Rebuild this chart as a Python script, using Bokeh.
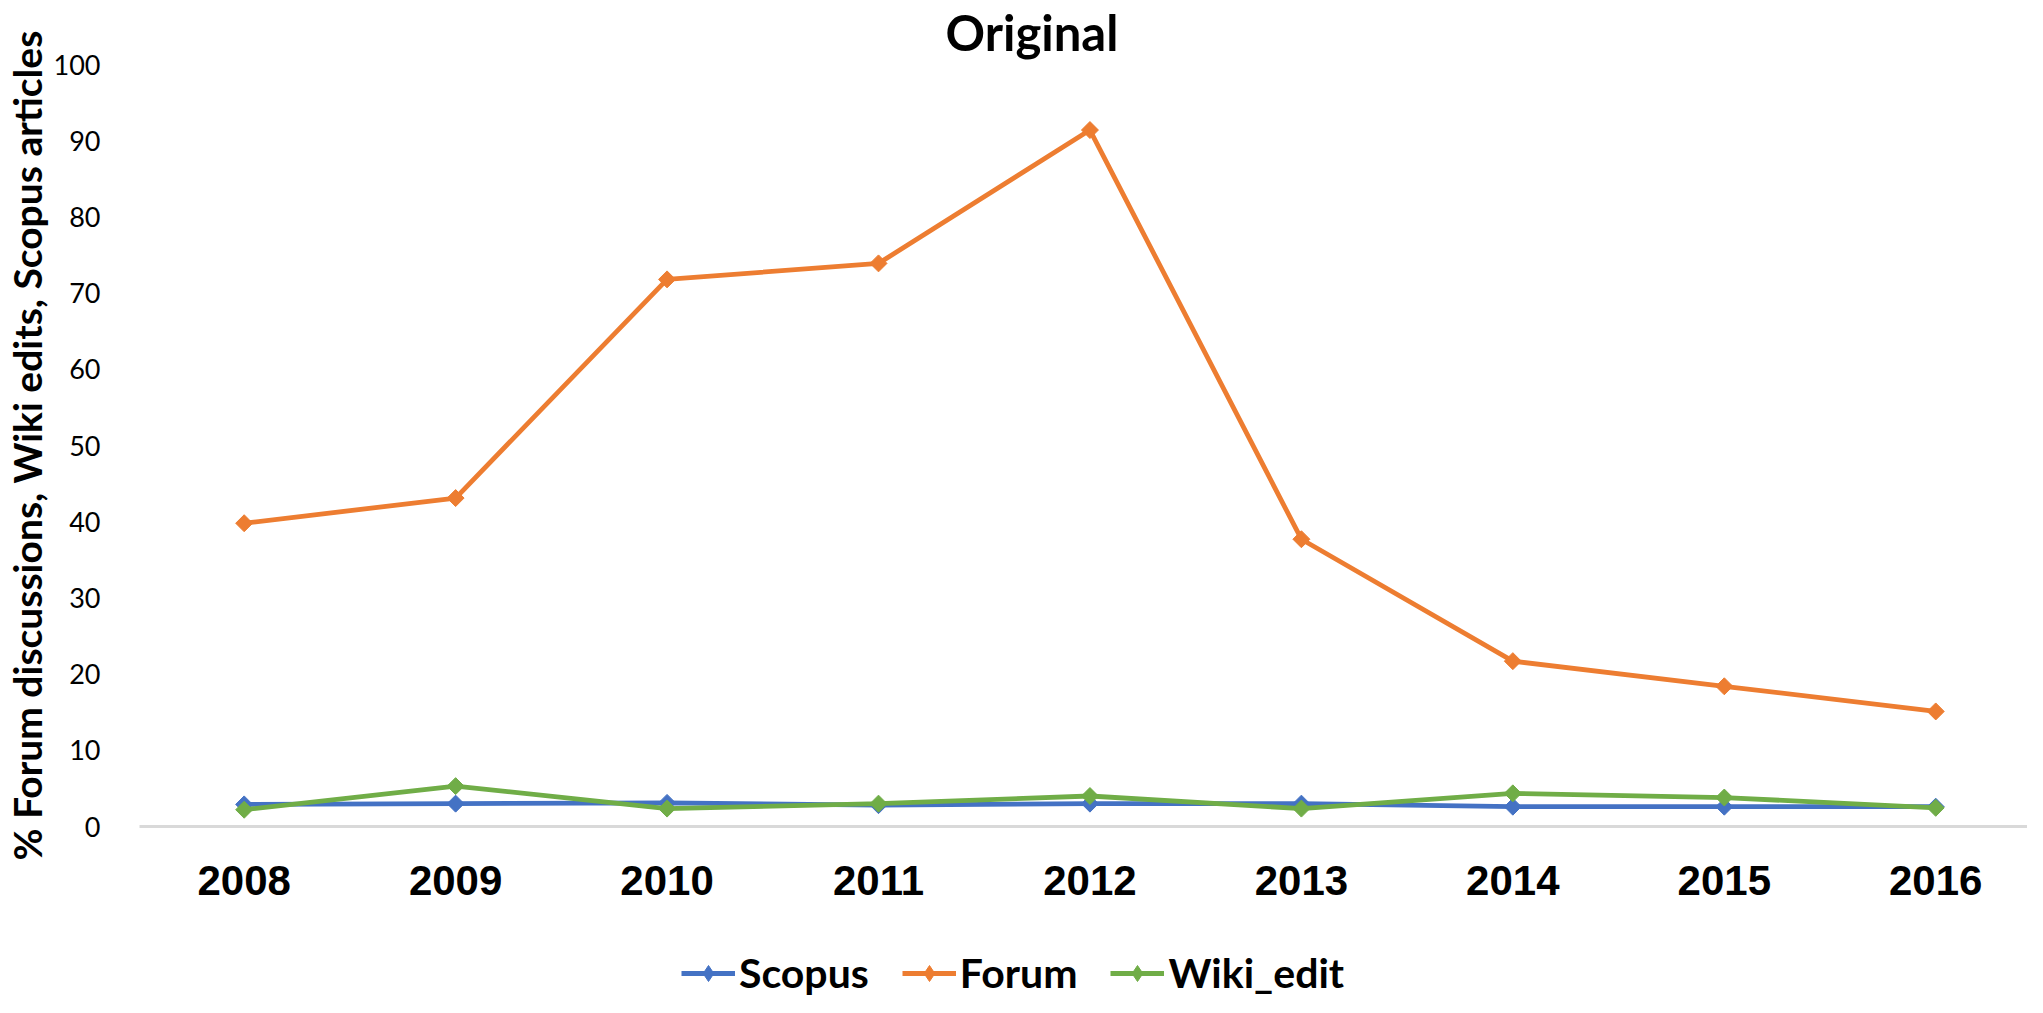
from bokeh.plotting import figure
from bokeh.models import Range1d, FixedTicker, Legend, LegendItem
from bokeh.layouts import column
from bokeh.embed import file_html
from bokeh.resources import INLINE
import math

years = [2008, 2009, 2010, 2011, 2012, 2013, 2014, 2015, 2016]
scopus = [2.9, 3.0, 3.1, 2.8, 3.0, 3.0, 2.6, 2.6, 2.6]
forum = [39.8, 43.1, 71.8, 73.9, 91.4, 37.7, 21.7, 18.4, 15.1]
wiki_edit = [2.2, 5.3, 2.35, 3.0, 4.0, 2.35, 4.35, 3.8, 2.45]
y_ticks = [0, 10, 20, 30, 40, 50, 60, 70, 80, 90, 100]
series_names = ["Scopus", "Forum", "Wiki_edit"]

colors = {"Scopus": "#4472C4", "Forum": "#ED7D31", "Wiki_edit": "#70AD47"}

p = figure(width=2027, height=927, output_backend="svg", toolbar_location=None,
           x_range=Range1d(2007.505, 2016.434), y_range=Range1d(0, 100),
           min_border_left=133, min_border_right=0, min_border_top=60,
           min_border_bottom=101, title="Original")
p.outline_line_color = None
p.grid.grid_line_color = None

p.title.text_font = "Lato"
p.title.text_font_size = "49px"
p.title.text_font_style = "bold"
p.title.text_color = "black"
p.title.text_line_height = 0.8
p.title.align = "left"
p.title.vertical_align = "top"
p.title.offset = 806
p.title.standoff = 4

p.xaxis.ticker = FixedTicker(ticks=years)
p.xaxis.major_label_text_font = "Liberation Sans"
p.xaxis.major_label_text_font_size = "42px"
p.xaxis.major_label_text_font_style = "bold"
p.xaxis.major_label_text_color = "black"
p.xaxis.major_label_standoff = 33
p.xaxis.major_tick_line_color = None
p.xaxis.minor_tick_line_color = None
p.xaxis.axis_line_color = "#D9D9D9"
p.xaxis.axis_line_width = 3

p.yaxis.ticker = FixedTicker(ticks=y_ticks)
p.yaxis.major_label_text_font = "Lato"
p.yaxis.major_label_text_font_size = "27px"
p.yaxis.major_label_text_color = "black"
p.yaxis.major_label_standoff = 33
p.yaxis.major_tick_line_color = None
p.yaxis.minor_tick_line_color = None
p.yaxis.axis_line_color = None
p.yaxis.axis_label = "% Forum discussions, Wiki edits, Scopus articles"
p.yaxis.axis_label_text_font = "Lato"
p.yaxis.axis_label_text_font_size = "39px"
p.yaxis.axis_label_text_font_style = "bold"
p.yaxis.axis_label_text_color = "black"
p.yaxis.axis_label_standoff = 1

series_vals = [scopus, forum, wiki_edit]
for name, vals in zip(series_names, series_vals):
    c = colors[name]
    p.line(years, vals, line_color=c, line_width=4.8)
    p.scatter(years, vals, marker="square", angle=math.pi / 4, size=12,
              fill_color=c, line_color=c)

# legend strip below the chart (its data lie outside its own view ranges)
pl = figure(width=2027, height=70, output_backend="svg", toolbar_location=None,
            x_axis_location=None, y_axis_location=None,
            x_range=Range1d(0, 1), y_range=Range1d(0, 1),
            min_border_left=0, min_border_right=0, min_border_top=0,
            min_border_bottom=0)
pl.outline_line_color = None
pl.grid.grid_line_color = None
items = []
for name, vals in zip(series_names, series_vals):
    c = colors[name]
    r1 = pl.line(years, vals, line_color=c, line_width=4.8)
    r2 = pl.scatter(years, vals, marker="diamond", size=19,
                    fill_color=c, line_color=c)
    items.append(LegendItem(label=name, renderers=[r1, r2]))

legend = Legend(items=items, orientation="horizontal", location=(542, 0),
                label_text_font="Lato", label_text_font_size="41px",
                label_text_font_style="bold", label_text_color="black",
                glyph_width=54, glyph_height=40, label_height=40,
                label_standoff=4, spacing=33,
                border_line_color=None, background_fill_alpha=0, margin=0,
                padding=0)
pl.add_layout(legend, "center")

layout = column(p, pl, spacing=0)
open("out.html", "w").write(file_html(layout, INLINE))
